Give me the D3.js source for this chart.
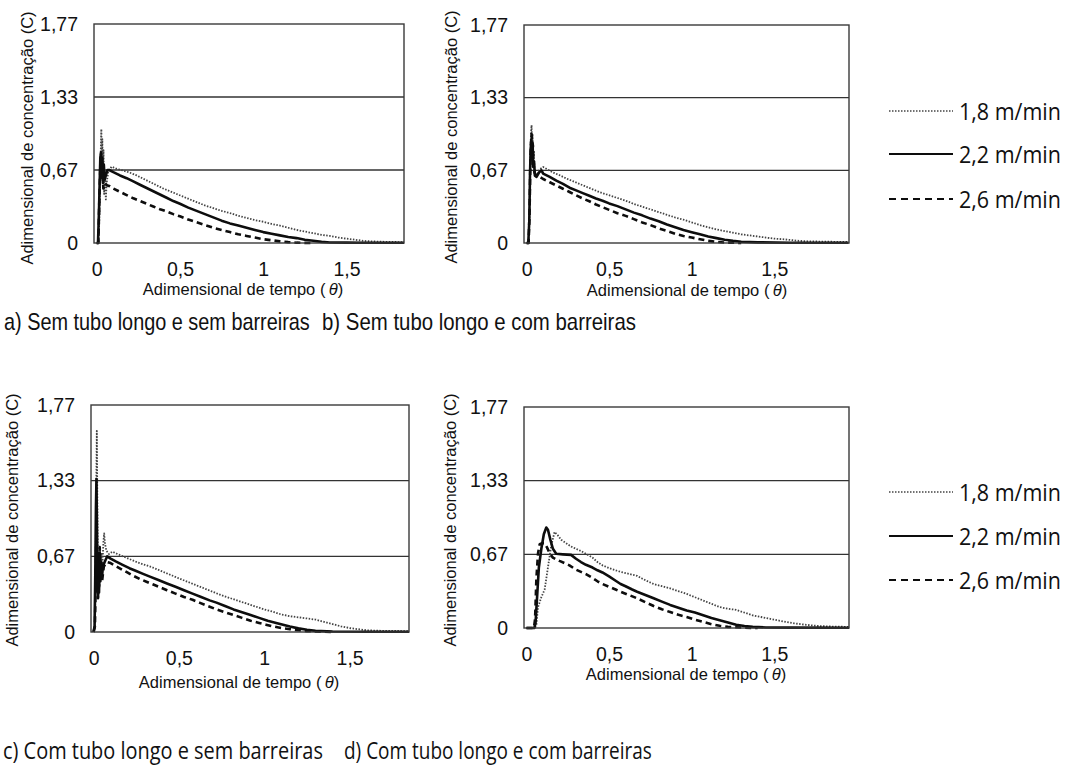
<!DOCTYPE html>
<html>
<head>
<meta charset="utf-8">
<script src="https://cdn.jsdelivr.net/npm/d3@7"></script>
<style>
  html, body { margin: 0; padding: 0; background: #fff; }
  svg { display: block; }
</style>
</head>
<body>
<script>
// Dimensionless concentration C versus dimensionless time θ for three flow speeds,
// in four configurations (with/without long tube, with/without barriers).

const speedLabels = ["1,8 m/min", "2,2 m/min", "2,6 m/min"];

const yTickValues = [0, 0.67, 1.33, 1.77];
const yTickLabels = ["0", "0,67", "1,33", "1,77"];
const xTickValues = [0, 0.5, 1, 1.5];
const xTickLabels = ["0", "0,5", "1", "1,5"];

const captions = [
  "a) Sem tubo longo e sem barreiras",
  "b) Sem tubo longo e com barreiras",
  "c) Com tubo longo e sem barreiras",
  "d) Com tubo longo e com barreiras"
];
const xAxisTitle = "Adimensional de tempo (";
const yAxisTitle = "Adimensional de concentração (C)";

// ---- a) sem tubo longo, sem barreiras ----
const a18 = [[0,0],[0.012,0],[0.018,0.35],[0.024,0.8],[0.028,1.04],[0.031,0.7],[0.034,0.95],[0.037,0.6],[0.041,0.85],[0.045,0.45],[0.05,0.62],[0.055,0.4],[0.06,0.55],[0.07,0.66],[0.09,0.7],[0.12,0.68],[0.16,0.665],[0.2,0.645],[0.24,0.62],[0.28,0.59],[0.32,0.56],[0.36,0.53],[0.4,0.5],[0.44,0.475],[0.48,0.45],[0.52,0.425],[0.56,0.4],[0.6,0.375],[0.65,0.345],[0.7,0.32],[0.75,0.295],[0.8,0.275],[0.85,0.25],[0.9,0.23],[0.95,0.21],[1.0,0.195],[1.05,0.175],[1.1,0.16],[1.15,0.14],[1.2,0.12],[1.25,0.105],[1.3,0.09],[1.35,0.075],[1.4,0.065],[1.45,0.05],[1.5,0.04],[1.55,0.03],[1.6,0.02],[1.65,0.015],[1.7,0.012],[1.75,0.01],[1.845,0.008]];
const a22 = [[0,0],[0.008,0],[0.014,0.3],[0.018,0.55],[0.022,0.78],[0.026,0.83],[0.03,0.6],[0.034,0.78],[0.038,0.55],[0.043,0.72],[0.048,0.58],[0.055,0.62],[0.065,0.67],[0.075,0.67],[0.1,0.65],[0.14,0.62],[0.18,0.595],[0.22,0.565],[0.26,0.535],[0.3,0.505],[0.34,0.475],[0.38,0.445],[0.42,0.415],[0.46,0.385],[0.5,0.36],[0.55,0.325],[0.6,0.295],[0.65,0.265],[0.7,0.235],[0.75,0.205],[0.8,0.18],[0.85,0.16],[0.9,0.14],[0.95,0.12],[1.0,0.1],[1.05,0.085],[1.1,0.07],[1.15,0.055],[1.2,0.045],[1.25,0.03],[1.3,0.02],[1.35,0.01],[1.4,0.005],[1.5,0.003],[1.6,0.002],[1.845,0.002]];
const a26 = [[0,0],[0.01,0],[0.016,0.4],[0.022,0.7],[0.026,0.8],[0.03,0.6],[0.035,0.7],[0.04,0.5],[0.05,0.55],[0.06,0.53],[0.08,0.52],[0.1,0.5],[0.14,0.47],[0.18,0.44],[0.22,0.41],[0.26,0.385],[0.3,0.36],[0.34,0.335],[0.38,0.31],[0.42,0.29],[0.46,0.265],[0.5,0.245],[0.55,0.215],[0.6,0.19],[0.65,0.165],[0.7,0.14],[0.75,0.12],[0.8,0.1],[0.85,0.08],[0.9,0.065],[0.95,0.05],[1.0,0.035],[1.05,0.025],[1.1,0.015],[1.15,0.008],[1.2,0.003],[1.3,0]];

// ---- b) sem tubo longo, com barreiras ----
const b18 = [[0,0],[0.012,0],[0.018,0.3],[0.022,0.7],[0.026,1.0],[0.03,1.08],[0.033,0.85],[0.036,1.0],[0.04,0.75],[0.044,0.85],[0.048,0.65],[0.055,0.62],[0.065,0.64],[0.08,0.68],[0.1,0.7],[0.13,0.675],[0.16,0.65],[0.2,0.625],[0.24,0.595],[0.28,0.57],[0.32,0.545],[0.36,0.52],[0.4,0.495],[0.44,0.47],[0.48,0.45],[0.52,0.43],[0.56,0.41],[0.6,0.39],[0.65,0.36],[0.7,0.335],[0.75,0.31],[0.8,0.285],[0.85,0.26],[0.9,0.235],[0.95,0.215],[1.0,0.19],[1.05,0.165],[1.1,0.145],[1.15,0.125],[1.2,0.11],[1.25,0.095],[1.3,0.08],[1.35,0.07],[1.4,0.06],[1.45,0.05],[1.5,0.04],[1.55,0.035],[1.6,0.028],[1.65,0.02],[1.7,0.016],[1.8,0.012],[1.95,0.01]];
const b22 = [[0,0],[0.01,0],[0.016,0.2],[0.02,0.6],[0.024,0.85],[0.028,0.94],[0.032,0.8],[0.036,0.92],[0.04,0.7],[0.045,0.75],[0.05,0.62],[0.06,0.61],[0.075,0.65],[0.09,0.67],[0.1,0.64],[0.14,0.61],[0.18,0.575],[0.22,0.545],[0.26,0.51],[0.3,0.485],[0.34,0.46],[0.38,0.435],[0.42,0.41],[0.46,0.39],[0.5,0.365],[0.55,0.34],[0.6,0.31],[0.65,0.28],[0.7,0.255],[0.75,0.225],[0.8,0.2],[0.85,0.17],[0.9,0.145],[0.95,0.12],[1.0,0.1],[1.05,0.08],[1.1,0.06],[1.15,0.045],[1.2,0.03],[1.25,0.02],[1.3,0.012],[1.4,0.006],[1.6,0.003],[1.95,0.002]];
const b26 = [[0,0],[0.012,0],[0.018,0.3],[0.022,0.7],[0.026,0.9],[0.03,1.0],[0.034,0.8],[0.038,0.9],[0.042,0.68],[0.05,0.64],[0.06,0.62],[0.08,0.61],[0.1,0.59],[0.14,0.56],[0.18,0.53],[0.22,0.5],[0.26,0.47],[0.3,0.44],[0.34,0.41],[0.38,0.385],[0.42,0.355],[0.46,0.33],[0.5,0.305],[0.55,0.275],[0.6,0.25],[0.65,0.22],[0.7,0.19],[0.75,0.165],[0.8,0.135],[0.85,0.11],[0.9,0.085],[0.95,0.065],[1.0,0.05],[1.05,0.035],[1.1,0.02],[1.15,0.01],[1.2,0.004],[1.3,0]];

// ---- c) com tubo longo, sem barreiras ----
const c18 = [[0,0],[0.008,0.05],[0.012,0.6],[0.016,1.3],[0.019,1.62],[0.022,1.2],[0.025,0.6],[0.028,0.3],[0.031,0.6],[0.034,0.4],[0.038,0.75],[0.042,0.5],[0.047,0.7],[0.052,0.6],[0.058,0.8],[0.062,0.87],[0.067,0.78],[0.075,0.72],[0.09,0.69],[0.11,0.71],[0.14,0.69],[0.18,0.665],[0.22,0.64],[0.26,0.615],[0.3,0.595],[0.34,0.575],[0.38,0.55],[0.42,0.525],[0.46,0.5],[0.5,0.475],[0.55,0.445],[0.6,0.415],[0.65,0.385],[0.7,0.355],[0.75,0.325],[0.8,0.3],[0.85,0.275],[0.9,0.25],[0.95,0.225],[1.0,0.2],[1.05,0.18],[1.1,0.155],[1.15,0.14],[1.2,0.13],[1.25,0.12],[1.3,0.11],[1.35,0.09],[1.4,0.07],[1.45,0.05],[1.5,0.035],[1.55,0.025],[1.6,0.015],[1.7,0.01],[1.848,0.008]];
const c22 = [[0,0],[0.006,0.05],[0.01,0.5],[0.014,1.1],[0.017,1.34],[0.02,0.9],[0.023,0.5],[0.026,0.3],[0.029,0.55],[0.032,0.35],[0.036,0.7],[0.04,0.45],[0.045,0.62],[0.05,0.5],[0.055,0.58],[0.065,0.62],[0.08,0.67],[0.1,0.65],[0.13,0.625],[0.17,0.595],[0.21,0.565],[0.25,0.54],[0.29,0.515],[0.33,0.49],[0.38,0.46],[0.43,0.43],[0.48,0.4],[0.53,0.37],[0.58,0.34],[0.63,0.31],[0.68,0.28],[0.72,0.26],[0.77,0.23],[0.82,0.2],[0.87,0.175],[0.92,0.15],[0.97,0.125],[1.02,0.1],[1.07,0.08],[1.11,0.064],[1.15,0.048],[1.2,0.032],[1.25,0.02],[1.3,0.01],[1.4,0.004],[1.6,0.002],[1.848,0.002]];
const c26 = [[0,0],[0.008,0.05],[0.012,0.4],[0.016,0.8],[0.02,0.6],[0.024,0.35],[0.028,0.6],[0.032,0.4],[0.036,0.75],[0.04,0.5],[0.045,0.6],[0.05,0.45],[0.06,0.58],[0.08,0.62],[0.1,0.61],[0.13,0.585],[0.17,0.55],[0.2,0.525],[0.23,0.5],[0.27,0.47],[0.31,0.445],[0.35,0.42],[0.39,0.395],[0.43,0.37],[0.48,0.34],[0.53,0.31],[0.58,0.285],[0.62,0.26],[0.67,0.23],[0.72,0.2],[0.77,0.175],[0.82,0.15],[0.87,0.125],[0.92,0.1],[0.97,0.08],[1.01,0.065],[1.05,0.05],[1.1,0.035],[1.15,0.025],[1.2,0.015],[1.25,0.008],[1.3,0.004],[1.4,0]];

// ---- d) com tubo longo, com barreiras ----
const d18 = [[0,0],[0.05,0],[0.06,0.03],[0.07,0.19],[0.09,0.28],[0.11,0.35],[0.13,0.55],[0.15,0.75],[0.17,0.87],[0.19,0.84],[0.21,0.8],[0.24,0.77],[0.27,0.74],[0.3,0.72],[0.33,0.7],[0.36,0.675],[0.4,0.64],[0.43,0.6],[0.46,0.57],[0.5,0.545],[0.54,0.525],[0.57,0.51],[0.6,0.5],[0.64,0.485],[0.67,0.475],[0.7,0.45],[0.74,0.42],[0.77,0.4],[0.82,0.38],[0.87,0.36],[0.92,0.335],[0.97,0.31],[1.02,0.28],[1.07,0.25],[1.12,0.22],[1.17,0.19],[1.22,0.175],[1.27,0.165],[1.32,0.14],[1.37,0.115],[1.42,0.1],[1.47,0.085],[1.52,0.07],[1.57,0.055],[1.62,0.043],[1.67,0.033],[1.72,0.025],[1.77,0.018],[1.85,0.013],[1.953,0.01]];
const d22 = [[0,0],[0.048,0],[0.055,0.05],[0.065,0.3],[0.075,0.55],[0.09,0.72],[0.105,0.85],[0.12,0.91],[0.13,0.89],[0.145,0.8],[0.16,0.72],[0.18,0.675],[0.22,0.67],[0.27,0.665],[0.3,0.63],[0.33,0.6],[0.36,0.575],[0.4,0.55],[0.43,0.525],[0.46,0.505],[0.5,0.47],[0.54,0.43],[0.57,0.4],[0.6,0.38],[0.64,0.35],[0.67,0.33],[0.72,0.3],[0.77,0.27],[0.82,0.24],[0.87,0.21],[0.92,0.185],[0.97,0.16],[1.02,0.14],[1.07,0.115],[1.12,0.09],[1.17,0.07],[1.22,0.05],[1.27,0.03],[1.32,0.018],[1.37,0.01],[1.45,0.005],[1.6,0.003],[1.953,0.002]];
const d26 = [[0,0],[0.045,0],[0.052,0.08],[0.06,0.45],[0.07,0.68],[0.08,0.76],[0.095,0.77],[0.11,0.77],[0.125,0.73],[0.14,0.68],[0.16,0.64],[0.2,0.61],[0.23,0.59],[0.26,0.57],[0.3,0.53],[0.33,0.51],[0.36,0.49],[0.4,0.455],[0.43,0.425],[0.46,0.4],[0.5,0.375],[0.54,0.35],[0.57,0.33],[0.62,0.3],[0.67,0.27],[0.72,0.235],[0.77,0.2],[0.82,0.17],[0.87,0.145],[0.92,0.12],[0.97,0.1],[1.02,0.075],[1.07,0.055],[1.12,0.035],[1.17,0.02],[1.22,0.01],[1.3,0.004],[1.4,0]];

// ---- layout ----
const W = 1070, H = 771;
const lineStyles = [
  { stroke: "#444", width: 1.8, dash: "1.5,1.5" },
  { stroke: "#0d0d0d", width: 2.6, dash: null },
  { stroke: "#0d0d0d", width: 2.6, dash: "6,4" }
];

const panels = [
  { series: [a18, a22, a26], left: 94, right: 404, top: 24, bottom: 243, xDomain: [-0.016, 1.845],
    xTitle: [243, 295], yTitle: [27, 138] },
  { series: [b18, b22, b26], left: 524, right: 849, top: 25, bottom: 243, xDomain: [-0.016, 1.953],
    xTitle: [687, 296], yTitle: [451, 137] },
  { series: [c18, c22, c26], left: 91, right: 409, top: 405, bottom: 632, xDomain: [-0.015, 1.848],
    xTitle: [239, 688], yTitle: [12, 520] },
  { series: [d18, d22, d26], left: 524, right: 849, top: 407, bottom: 628, xDomain: [-0.015, 1.953],
    xTitle: [686, 680], yTitle: [450, 520] }
];

const svg = d3.select("body").append("svg")
  .attr("width", W).attr("height", H)
  .attr("viewBox", `0 0 ${W} ${H}`);
svg.append("rect").attr("width", W).attr("height", H).attr("fill", "#fff");

const sans = "'Liberation Sans', Arial, sans-serif";
const humanist = "'Open Sans', 'Noto Sans', sans-serif";

// Draws a text whose advance is exactly `width` px: the font size is chosen so the
// natural width fits, then the glyphs are stretched vertically to the wanted height.
function fittedText(parent, str, x, y, width, visualSize, family, baseline) {
  const t = parent.append("text")
    .attr("font-family", family).attr("font-size", visualSize).attr("fill", "#111")
    .text(str);
  if (baseline) t.attr("dominant-baseline", baseline);
  const natural = t.node().getComputedTextLength();
  const size = visualSize * width / natural;
  t.attr("font-size", size)
    .attr("transform", `translate(${x},${y}) scale(1,${visualSize / size})`);
  return t;
}

panels.forEach(p => {
  const g = svg.append("g");
  const x = d3.scaleLinear().domain(p.xDomain).range([p.left, p.right]);
  const step = (p.bottom - p.top) / 3;
  const y = d3.scaleLinear().domain(yTickValues).range(yTickValues.map((d, i) => p.bottom - i * step));

  // horizontal gridlines
  g.selectAll("line.grid").data(yTickValues.slice(1, 3)).join("line")
    .attr("class", "grid")
    .attr("x1", p.left).attr("x2", p.right)
    .attr("y1", d => y(d)).attr("y2", d => y(d))
    .attr("stroke", "#333").attr("stroke-width", 1.4);

  // series
  const line = d3.line().x(d => x(d[0])).y(d => y(d[1]));
  p.series.forEach((s, i) => {
    const st = lineStyles[i];
    g.append("path").datum(s)
      .attr("d", line)
      .attr("fill", "none")
      .attr("stroke", st.stroke)
      .attr("stroke-width", st.width)
      .attr("stroke-linejoin", "round")
      .attr("stroke-dasharray", st.dash);
  });

  // plot frame
  g.append("rect")
    .attr("x", p.left).attr("y", p.top)
    .attr("width", p.right - p.left).attr("height", p.bottom - p.top)
    .attr("fill", "none").attr("stroke", "#3a3a3a").attr("stroke-width", 1.4);

  // y axis
  const yAxis = g.append("g").attr("transform", `translate(${p.left},0)`)
    .call(d3.axisLeft(y).tickValues(yTickValues)
      .tickFormat((d, i) => yTickLabels[i]).tickSize(0).tickPadding(16));
  yAxis.select(".domain").remove();
  yAxis.selectAll("text").attr("font-family", sans).attr("font-size", 19.5).attr("fill", "#111");

  // x axis
  const xAxis = g.append("g").attr("transform", `translate(0,${p.bottom})`)
    .call(d3.axisBottom(x).tickValues(xTickValues)
      .tickFormat((d, i) => xTickLabels[i]).tickSize(0).tickPadding(19));
  xAxis.select(".domain").remove();
  xAxis.selectAll("text").attr("font-family", sans).attr("font-size", 19.5).attr("fill", "#111");

  // axis titles
  const xt = g.append("text")
    .attr("x", p.xTitle[0]).attr("y", p.xTitle[1])
    .attr("text-anchor", "middle")
    .attr("font-family", sans).attr("font-size", 16.5).attr("fill", "#111");
  xt.append("tspan").text(xAxisTitle);
  xt.append("tspan").attr("font-style", "italic").text("\u2009θ");
  xt.append("tspan").text(")");

  g.append("text")
    .attr("transform", `translate(${p.yTitle[0]},${p.yTitle[1]}) rotate(-90)`)
    .attr("text-anchor", "middle").attr("dominant-baseline", "central")
    .attr("font-family", sans).attr("font-size", 16.5).attr("fill", "#111")
    .text(yAxisTitle);
});

// captions under each panel
const captionPos = [
  { x: 4, y: 330, len: 306, font: sans, size: 24 },
  { x: 322, y: 330, len: 314, font: sans, size: 24 },
  { x: 3, y: 759, len: 320, font: humanist, size: 23 },
  { x: 344, y: 759, len: 308, font: humanist, size: 23 }
];
captions.forEach((c, i) => {
  const cp = captionPos[i];
  fittedText(svg, c, cp.x, cp.y, cp.len, cp.size, cp.font, null);
});

// legends (one beside each row)
const legendRows = [[111, 154, 199], [492, 536, 580]];
legendRows.forEach(rows => {
  const lg = svg.append("g");
  speedLabels.forEach((lab, i) => {
    const st = lineStyles[i];
    lg.append("line")
      .attr("x1", 889).attr("x2", 953).attr("y1", rows[i]).attr("y2", rows[i])
      .attr("stroke", st.stroke)
      .attr("stroke-width", i === 0 ? 1.6 : 2.2)
      .attr("stroke-dasharray", i === 0 ? "1.5,1.5" : (i === 2 ? "7,5" : null));
    fittedText(lg, lab, 959, rows[i], 102, 23, humanist, "central");
  });
});
</script>
</body>
</html>
